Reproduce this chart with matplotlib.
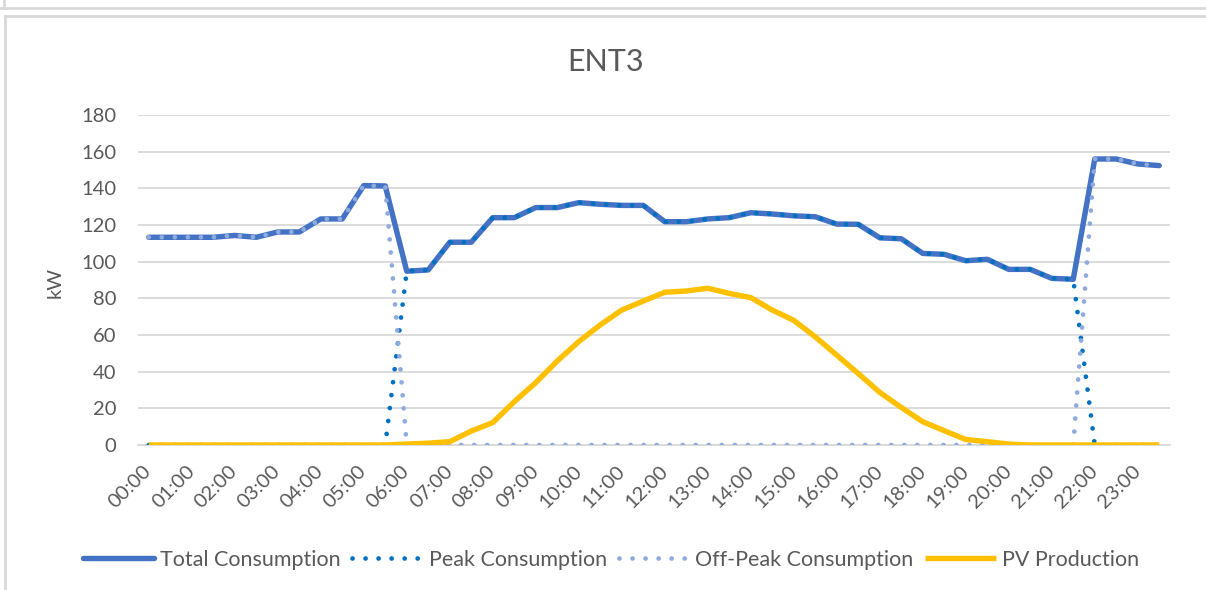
import matplotlib.pyplot as plt
import numpy as np
from matplotlib.lines import Line2D

plt.rcParams['font.family'] = ['Lato', 'DejaVu Sans']

# half-hourly values, 00:00 .. 23:30
times = ['%02d:%02d' % (h, m) for h in range(24) for m in (0, 30)]
hour_labels = ['%02d:00' % h for h in range(24)]

total = [113.3, 113.3, 113.3, 113.3, 114.3, 113.3, 116.2, 116.2, 123.3, 123.3, 141.5, 141.3,
         94.8, 95.5, 110.6, 110.6, 124.0, 124.0, 129.5, 129.5, 132.2, 131.3, 130.7, 130.7,
         121.8, 121.8, 123.3, 124.0, 126.7, 126.0, 125.0, 124.5, 120.5, 120.4, 113.0, 112.5,
         104.5, 104.0, 100.5, 101.3, 95.8, 95.8, 90.9, 90.4, 156.0, 156.0, 153.3, 152.4]

pv = [0, 0, 0, 0, 0, 0, 0, 0, 0, 0, 0, 0,
      0.5, 1.0, 1.8, 7.6, 12.2, 23.6, 34.0, 45.8, 56.4, 65.5, 73.6, 78.5,
      83.3, 84.0, 85.5, 82.7, 80.4, 73.6, 68.0, 59.0, 49.0, 39.0, 28.7, 20.5,
      12.7, 7.8, 3.0, 1.8, 0.5, 0, 0, 0, 0, 0, 0, 0]

# peak tariff window 06:00 - 22:00
peak_start = '06:00'
peak_end = '22:00'

total = np.array(total)
is_peak = np.array([peak_start <= t < peak_end for t in times])
peak = np.where(is_peak, total, 0)
offpeak = np.where(is_peak, 0, total)

x = np.arange(len(times))

fig = plt.figure(figsize=(12.06, 5.9), dpi=100)
ax = fig.add_axes([138 / 1206, 145 / 590, 1032 / 1206, 330 / 590])

dots = (0, (0.01, 2.75))
ax.plot(x, total, color='#4472C4', lw=3.9, solid_capstyle='round', solid_joinstyle='round',
        label='Total Consumption', zorder=3)
ax.plot(x, peak, color='#0070C0', lw=3.4, linestyle=dots, dash_capstyle='round',
        label='Peak Consumption', zorder=4)
ax.plot(x, offpeak, color='#8FAADC', lw=3.4, linestyle=dots, dash_capstyle='round',
        label='Off-Peak Consumption', zorder=5)
ax.plot(x, pv, color='#FFC000', lw=3.9, solid_capstyle='butt', solid_joinstyle='round',
        label='PV Production', zorder=6)

ax.set_xlim(-0.5, len(times) - 0.5)
ax.set_ylim(0, 180)
ax.set_yticks(range(0, 181, 20))
ax.set_xticks(x[::2])
ax.set_xticklabels(hour_labels, rotation=45, ha='right', va='center', rotation_mode='anchor')

ax.grid(axis='y', color='#D9D9D9', lw=1.3)
ax.set_axisbelow(True)
for s in ['top', 'right', 'left']:
    ax.spines[s].set_visible(False)
ax.spines['bottom'].set_color('#D9D9D9')
ax.spines['bottom'].set_linewidth(1.3)
ax.tick_params(axis='both', length=0, labelsize=14.5, labelcolor='#595959')
ax.tick_params(axis='y', pad=15.5)
ax.tick_params(axis='x', pad=17)

fig.text(55 / 1206, 1 - 282 / 590, 'kW', rotation=90, ha='center', va='center',
         fontsize=14.5, color='#595959')
fig.text(606 / 1206, 1 - 62 / 590, 'ENT3', ha='center', va='center',
         fontsize=22, color='#595959')

leg = fig.legend(loc='center', bbox_to_anchor=(611 / 1206, 1 - 560 / 590), ncol=4,
                 frameon=False, fontsize=15.5, handlelength=3.3, handletextpad=0.25,
                 columnspacing=0.55, labelcolor='#595959')

# chart frame borders
border = '#D9D9D9'
fig.add_artist(Line2D([0, 1], [1 - 8 / 590, 1 - 8 / 590], color=border, lw=2))
fig.add_artist(Line2D([4 / 1206, 4 / 1206], [1, 1 - 8 / 590], color=border, lw=2))
fig.add_artist(Line2D([5 / 1206, 1], [1 - 16 / 590, 1 - 16 / 590], color=border, lw=2))
fig.add_artist(Line2D([5 / 1206, 5 / 1206], [0, 1 - 16 / 590], color=border, lw=2))

fig.savefig('out.png', dpi=100)
